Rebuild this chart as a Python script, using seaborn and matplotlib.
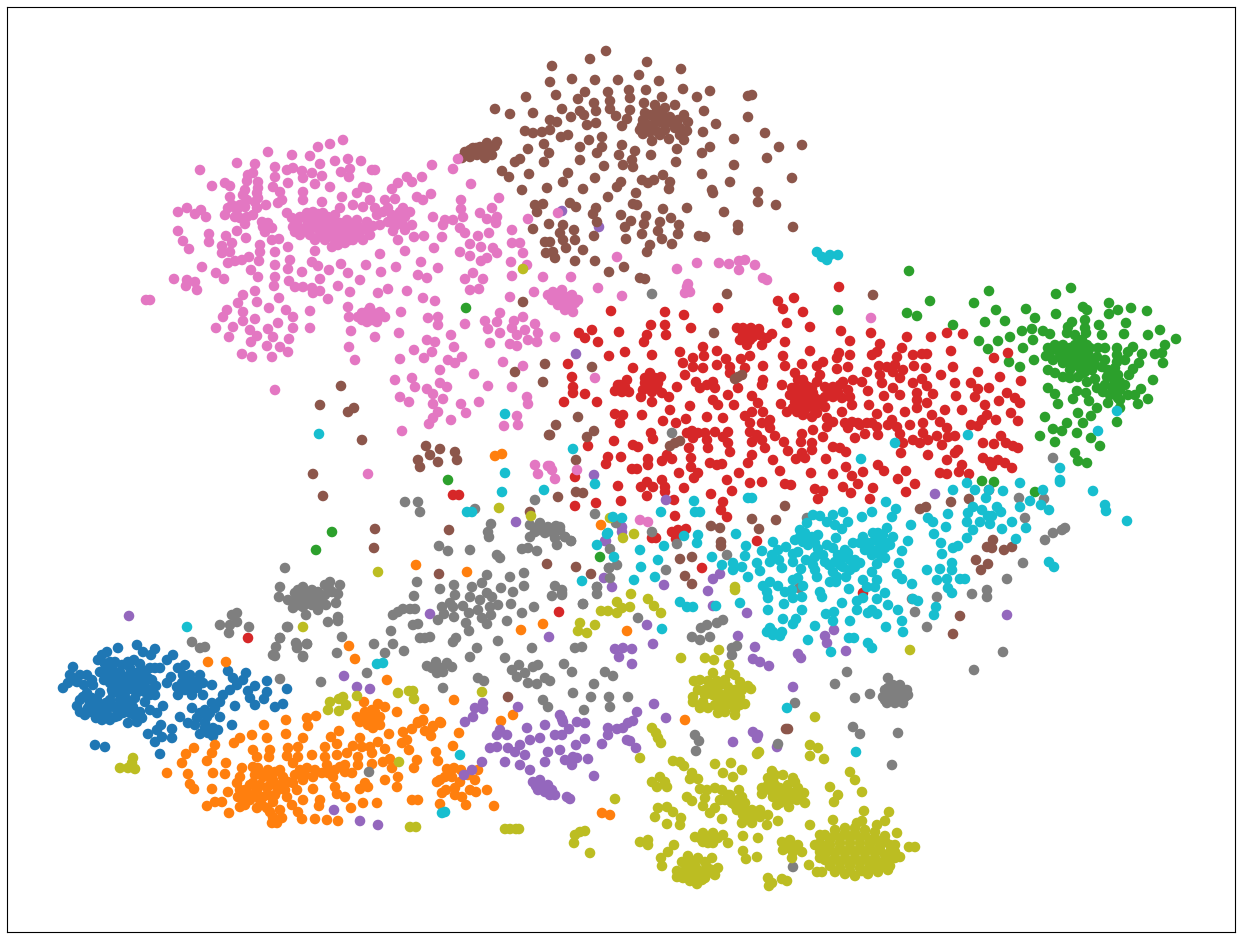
import pandas as pd
import matplotlib.pyplot as plt
import seaborn as sns

# points, one list per class
blue = [(107,652),(102,655),(98,660),(118,648),(137,645),(143,652),(155,649),(151,655),(173,655),(167,660),(160,668),(155,668),
(73,667),(70,675),(63,688),(68,683),(77,682),(87,675),(93,685),(107,670),(112,668),(108,676),(114,675),(120,672),(110,683),(116,681),(122,679),(128,676),
(118,687),(124,685),(130,683),(136,680),(126,691),(132,689),(138,687),(144,684),(148,678),(142,678),(136,673),(130,668),(128,662),(134,660),(140,664),(146,671),
(150,668),(152,690),(156,686),(155,695),(150,695),(145,692),(138,692),(118,680),(83,697),(77,706),(85,715),(93,707),(100,693),(110,700),(120,700),(103,713),
(110,720),(102,720),(123,713),(128,723),(137,722),(140,712),(133,707),(135,698),(145,702),(130,713),(117,710),(97,700),(90,703),(107,710),(115,717),
(150,710),(157,713),(163,706),(161,725),(148,734),(155,742),(162,737),(172,729),(172,738),(157,730),(167,683),(171,677),(178,668),(185,665),(183,675),(200,675),
(188,683),(177,687),(178,695),(192,695),(203,695),(197,688),(203,683),(212,685),(185,690),(180,717),(188,723),(192,708),(200,713),(212,703),(220,702),(210,713),
(220,717),(205,723),(213,728),(200,734),(213,736),(218,730),(232,725),(207,717),(197,718),(208,733),(228,671),(233,678),(237,685),(230,690),(223,695),(246,673),
(243,680),(235,706),(255,686),(248,691),(250,698),(255,705),(267,681),(267,692),(264,699),(287,689),(283,704),(275,707),(95,745),(105,747),(160,754)]
blue_dense = [(80,700),(88,708),(95,712),(100,705),(106,703),(113,706),(120,706),(126,706),(92,698),(87,693),(113,693),(125,697),(128,703),(134,715),(142,718),(118,716),
(108,716),(96,718),(90,712),(80,712),(115,662),(122,665),(110,662),(140,672),(152,680),(146,688),(120,693),(112,690),(104,680),(100,672),(105,664),(72,680),(80,675),
(84,685),(92,680),(190,675),(195,682),(182,683),(190,690),(205,710),(215,708),(205,728),(195,725)]

orange = [(208,662),(226,662),(349,646),(355,659),(387,680),(454,700),(397,712),(424,709),(364,702),(378,704),(385,707),(357,717),(365,712),(370,717),(360,722),
(380,717),(380,725),(373,728),(307,718),(316,716),(308,726),(286,720),(264,725),(286,734),(252,735),(267,738),(303,738),(240,738),(234,743),(215,745),(194,748),
(186,754),(212,753),(182,763),(207,761),(226,763),(167,773),(188,774),(213,773),(225,774),(242,768),(190,784),(194,789),(212,789),(228,792),(237,783),(240,777),
(207,806),(215,802),(222,802),(229,813),(253,750),(257,757),(270,750),(269,757),(288,748),(298,747),(287,756),(298,757),(293,763),(280,770),(270,777),(258,768),
(253,767),(263,777),(253,783),(247,793),(238,797),(240,807),(250,800),(257,808),(267,808),(273,802),(263,797),(257,790),(267,788),(273,780),(283,777),(293,783),
(297,790),(303,780),(307,768),(287,797),(303,800),(292,805),(298,812),(302,819),(273,817),(282,818),(277,823),(272,823),(315,819),(327,820),(338,821),(320,800),
(319,806),(345,797),(351,808),(363,803),(377,803),(313,789),(335,787),(337,794),(312,755),(325,757),(337,755),(325,747),(331,737),(339,731),(337,744),(360,738),
(347,753),(358,757),(353,746),(362,747),(370,747),(378,742),(372,753),(358,765),(372,764),(385,749),(389,734),(313,777),(322,773),(327,765),(333,777),(340,767),
(345,772),(352,773),(360,789),(368,787),(365,783),(385,780),(383,762),(390,759),(392,768),(398,777),(397,787),(412,800),(418,800),(403,732),(407,740),(402,743),
(409,750),(412,729),(418,723),(423,721),(425,731),(431,736),(433,727),(441,723),(436,752),(438,761),(417,760),(414,768),(453,746),(459,733),(437,782),(445,777),
(452,777),(442,793),(455,788),(440,804),(454,768),(461,770),(468,775),(475,780),(470,790),(462,797),(476,792),(466,805),(440,780),(446,790),(455,795),(460,782),
(447,769),(478,770),(487,790),(494,806),(495,456),(502,454),(416,565),(467,572),(521,630),(543,624),(501,721),(513,715),(418,722),(423,720),(440,722),(433,726),
(601,525),(627,631),(685,720),(602,813),(610,815)]
orange_dense = [(240,790),(245,800),(250,785),(245,790),(253,795),(260,785),(260,800),(268,795),(275,795),(262,775),(268,770),(275,772),(280,785),(285,790),(278,790),
(288,782),(295,775),(300,770),(270,785),(255,775),(245,805),(262,805),(280,810),(270,812),(305,775),(315,770),(335,770),(345,765),(328,773),(372,710),(375,722),(368,725),(365,718),(375,712)]

green = [(989,291),(974,303),(996,310),(985,322),(1005,321),(979,341),(998,341),(1010,337),(988,349),(1009,362),(1023,348),(1020,367),(1034,360),(1033,340),(1022,331),
(1032,329),(1043,331),(1050,334),(1026,309),(1035,318),(1056,294),(1071,288),(1056,314),(1083,307),(1087,310),(1109,303),(1109,314),(1118,310),(1131,308),(1147,311),
(1099,325),(1126,323),(1102,335),(1124,334),(1160,330),(1148,335),(1176,339),(1165,345),(1162,353),(1155,354),(1163,363),(1153,380),(1148,399),(1138,404),(1142,354),
(1139,363),(1133,369),(1129,375),(1141,389),(1048,348),(1046,356),(1057,350),(1063,345),(1070,348),(1060,357),(1067,355),(1053,360),(1063,363),(1073,358),(1082,340),
(1087,345),(1080,350),(1088,353),(1082,358),(1085,365),(1092,370),(1083,373),(1078,377),(1087,382),(1095,379),(1085,320),(1085,328),(1072,322),(1068,327),(1067,333),
(1075,335),(1086,333),(1098,348),(1105,348),(1097,357),(1105,360),(1117,348),(1117,355),(1125,360),(1128,352),(1133,347),(1117,362),(1102,367),(1108,370),(1115,368),
(1107,377),(1113,378),(1120,382),(1125,385),(1112,387),(1115,393),(1118,398),(1128,395),(1135,395),(1097,388),(1103,392),(1108,403),(1120,408),(1097,408),(1048,370),
(1055,373),(1070,370),(1063,377),(1070,378),(1048,388),(1055,394),(1058,404),(1077,391),(1086,393),(1073,399),(1089,401),(1078,413),(1091,416),(1045,417),(1067,423),
(1083,423),(1053,429),(1062,431),(1077,433),(1040,436),(1055,442),(1091,438),(1100,446),(1075,453),(1078,461),(1087,463),(1117,422),(838,310),(930,301),(907,313),
(917,316),(953,325),(982,481),(994,482),(466,308),(600,557),(1035,492),(332,532),(316,550),(909,271),(448,480)]
green_dense = [(1050,352),(1055,345),(1060,350),(1065,352),(1075,345),(1078,345),(1075,352),(1090,360),(1085,372),(1090,348),(1110,375),(1105,385),(1115,383),(1120,390),
(1112,372),(1118,375),(1095,365),(1080,368),(1067,362),(1072,350),(1080,360),(1076,365),(1120,400),(1110,395)]

red = [(839,287),(794,298),(778,301),(783,309),(803,312),(718,308),(787,323),(810,327),(841,331),(871,333),(850,341),(785,342),(665,312),(684,315),(611,311),(651,325),
(665,325),(691,328),(619,332),(592,330),(579,333),(585,338),(598,342),(647,335),(644,342),(666,335),(625,352),(609,356),(652,355),(568,364),(633,368),(680,352),
(683,363),(693,358),(693,367),(703,347),(704,356),(703,368),(717,351),(717,365),(726,359),(741,359),(750,356),(730,367),(730,373),(745,368),(685,375),(737,328),
(743,328),(751,328),(759,329),(740,340),(747,345),(753,337),(762,345),(767,338),(772,334),(750,340),(743,335),(763,366),(763,380),(762,385),(783,356),(785,366),
(802,364),(810,351),(817,366),(823,362),(572,377),(573,387),(573,393),(585,394),(564,402),(597,402),(618,385),(627,380),(615,391),(622,392),(629,392),(650,373),
(645,383),(650,383),(655,378),(661,377),(657,388),(652,392),(641,397),(652,402),(662,393),(669,397),(677,387),(696,382),(700,388),(707,385),(713,382),(715,388),
(738,388),(728,395),(690,406),(713,400),(718,405),(734,405),(752,396),(615,414),(623,415),(620,423),(642,415),(670,410),(663,421),(676,423),(686,419),(707,417),
(723,418),(758,403),(752,412),(745,416),(763,412),(750,423),(762,423),(770,420),(770,428),(781,404),(787,412),(792,388),(782,385),(795,373),(803,380),(808,387),
(798,397),(807,397),(813,393),(800,407),(808,405),(817,405),(803,415),(812,417),(793,408),(817,413),(795,402),(817,382),(825,387),(833,387),(840,385),(825,397),
(833,397),(842,398),(825,407),(820,375),(837,358),(839,353),(850,355),(837,369),(848,367),(843,382),(853,380),(862,382),(867,372),(868,391),(850,397),(848,390),
(852,405),(842,412),(869,405),(877,414),(827,418),(833,422),(827,427),(845,423),(852,422),(858,423),(867,423),(877,427),(848,428),(865,434),(878,435),(855,438),
(872,355),(877,352),(880,344),(902,348),(907,337),(931,337),(947,333),(963,334),(951,351),(913,355),(922,354),(927,354),(897,357),(994,358),(1008,353),(879,366),
(887,367),(895,365),(880,375),(893,372),(900,378),(903,370),(914,366),(926,368),(953,367),(941,375),(913,383),(922,379),(927,386),(882,383),(893,388),(900,395),
(884,396),(917,393),(917,400),(927,403),(933,394),(955,383),(956,396),(945,410),(962,410),(917,408),(905,412),(888,408),(892,420),(897,427),(900,434),(888,425),
(910,425),(923,423),(932,415),(940,422),(947,428),(923,433),(903,443),(913,440),(920,443),(928,440),(937,436),(942,445),(948,437),(955,436),(901,453),(928,455),
(958,450),(947,460),(962,465),(955,453),(969,474),(959,472),(940,473),(947,474),(971,383),(978,372),(978,389),(989,388),(1000,377),(1021,381),(1007,393),(1015,398),
(1020,403),(975,397),(985,405),(999,401),(1011,413),(1018,421),(987,415),(982,420),(971,425),(996,420),(978,426),(1001,436),(1006,443),(1013,446),(1018,448),(983,443),
(994,444),(983,458),(990,462),(998,460),(1005,463),(1012,468),(992,466),(989,490),(692,431),(698,433),(687,433),(705,433),(715,432),(728,432),(707,440),(693,438),
(723,437),(728,443),(730,452),(708,448),(689,448),(651,433),(653,439),(614,441),(633,445),(638,447),(608,457),(621,457),(606,464),(648,459),(648,465),(662,461),
(667,455),(672,459),(632,469),(637,469),(679,473),(750,432),(757,435),(752,442),(762,440),(765,448),(775,436),(784,442),(802,434),(801,442),(813,430),(823,437),
(812,443),(812,450),(788,451),(802,453),(796,459),(805,458),(826,459),(833,447),(840,448),(846,452),(752,455),(748,463),(773,460),(710,463),(717,465),(722,464),
(691,458),(691,467),(698,473),(694,478),(739,473),(727,480),(750,483),(762,482),(780,471),(811,473),(833,474),(846,467),(852,476),(863,472),(858,484),(843,487),
(851,493),(873,488),(870,499),(878,465),(884,471),(898,479),(906,471),(915,484),(906,492),(647,482),(641,487),(653,487),(618,486),(647,496),(662,480),(665,487),
(665,492),(684,488),(785,484),(791,485),(815,489),(823,491),(818,499),(732,491),(711,494),(723,502),(721,510),(727,517),(674,500),(675,516),(621,501),(596,503),
(575,506),(575,477),(588,446),(672,532),(678,530),(686,529),(676,539),(652,538),(656,538),(757,541),(702,568),(863,593),(559,612),(459,495),(453,495),(248,638)]
red_dense = [(800,390),(805,392),(795,388),(812,388),(800,400),(810,400),(815,398),(805,410),(797,412),(820,400),(790,395),(815,410),(805,385),(798,380),(645,378),(652,385),
(658,383),(648,388),(643,390),(745,331),(755,333),(760,335),(748,338),(620,385),(625,387),(830,392),(838,392),(860,425),(872,423)]

purple = [(129,616),(344,676),(357,687),(370,689),(430,614),(334,810),(360,821),(378,825),(516,522),(605,541),(604,578),(549,637),(475,708),(483,703),(483,709),(473,717),
(465,722),(518,707),(527,728),(545,725),(560,715),(563,722),(577,722),(585,723),(666,500),(622,527),(622,532),(606,541),(612,587),(664,585),(713,579),(720,574),
(708,591),(713,606),(747,613),(647,625),(653,644),(738,636),(755,647),(615,649),(623,648),(632,649),(619,657),(632,664),(753,659),(760,662),(769,666),(798,654),
(801,658),(825,636),(827,643),(834,630),(846,651),(935,494),(1007,615),(654,704),(637,712),(666,718),(793,687),(753,732),(757,738),(758,735),(733,742),(777,747),
(562,719),(569,729),(562,735),(608,728),(608,735),(617,729),(623,728),(628,723),(633,721),(627,740),(630,741),(602,744),(636,748),(585,739),(576,745),(560,750),
(565,760),(573,757),(572,765),(577,758),(588,759),(594,776),(567,797),(570,799),(533,782),(540,780),(548,785),(545,792),(552,790),(538,790),(555,795),(490,748),
(497,747),(508,748),(520,745),(515,752),(505,762),(520,765),(530,770),(482,762),(472,770),(464,775),(548,752),(545,762),(530,740),(525,755),(500,730),(507,735),
(497,735),(540,738),(555,735),(562,211),(599,227),(576,354),(594,475)]
purple_dense = [(536,786),(543,786),(550,795)]

brown = [(606,51),(590,59),(552,66),(647,62),(681,69),(639,75),(659,81),(550,82),(572,79),(595,80),(618,80),(629,90),(630,98),(646,90),(683,89),(710,91),(585,92),(608,92),
(556,95),(526,97),(578,99),(662,97),(697,97),(752,95),(748,96),(594,103),(610,101),(644,103),(675,105),(495,109),(510,114),(533,113),(562,109),(580,111),(596,111),
(610,109),(630,110),(704,111),(748,117),(571,117),(584,115),(616,116),(627,119),(716,124),(550,120),(557,122),(596,123),(587,125),(622,126),(657,110),(650,115),
(643,120),(642,126),(643,134),(652,141),(653,125),(658,132),(663,115),(670,117),(667,123),(675,128),(688,122),(687,131),(669,139),(684,140),(684,115),(660,122),
(703,132),(734,139),(765,133),(779,147),(802,145),(710,147),(702,153),(677,149),(676,162),(734,165),(767,158),(702,174),(730,182),(792,178),(712,190),(713,193),
(758,192),(758,202),(776,205),(724,212),(687,208),(738,225),(738,230),(793,227),(699,236),(705,237),(525,131),(533,133),(542,132),(550,130),(561,137),(568,135),
(589,140),(602,137),(528,149),(544,144),(549,153),(580,147),(602,147),(622,145),(635,151),(619,155),(597,153),(651,155),(580,160),(544,162),(520,159),(515,162),
(604,166),(623,165),(632,160),(633,167),(502,171),(509,177),(529,174),(568,173),(563,182),(595,178),(621,182),(617,187),(547,188),(522,190),(583,189),(642,180),
(648,183),(654,180),(663,175),(670,182),(669,189),(608,197),(636,193),(535,205),(543,204),(537,212),(570,203),(576,207),(596,208),(593,214),(633,204),(637,205),
(621,215),(663,209),(646,216),(671,218),(549,224),(533,229),(563,225),(560,233),(574,230),(597,222),(594,236),(625,227),(631,221),(644,224),(660,222),(679,225),
(642,234),(658,231),(678,234),(626,239),(662,239),(545,242),(563,240),(575,240),(550,242),(566,248),(546,253),(553,252),(555,258),(583,250),(650,245),(647,252),
(672,244),(575,261),(595,261),(609,272),(624,267),(640,278),(645,279),(727,294),(467,155),(473,148),(480,147),(487,143),(492,155),(485,153),(497,142),(477,155),
(873,295),(714,333),(592,367),(738,377),(742,375),(735,379),(578,417),(556,425),(587,437),(594,431),(550,435),(670,446),(675,443),(680,441),(576,460),(576,492),
(583,493),(558,497),(785,506),(920,509),(926,507),(951,502),(969,499),(752,519),(776,520),(711,526),(720,528),(759,529),(721,542),(721,546),(680,559),(692,557),
(685,576),(692,584),(576,567),(591,574),(993,540),(987,547),(992,548),(1004,550),(1012,547),(976,560),(988,564),(981,570),(960,616),(953,634),(341,386),(320,405),
(348,412),(354,408),(362,440),(523,302),(515,372),(545,364),(543,382),(549,435),(426,446),(440,449),(455,452),(457,460),(418,460),(420,467),(430,455),(438,462),
(323,496),(375,529),(374,548),(449,530),(439,574),(530,512),(547,564),(508,697),(786,729),(788,729),(313,474)]
brown_dense = [(645,113),(655,118),(648,125),(650,132),(645,128),(665,130),(660,135),(672,122),(678,120),(680,128),(655,105),(665,108),(640,130),(680,135),(465,152),(470,150),
(475,150),(480,152),(483,148),(489,148),(495,146),(490,150),(470,157),(476,148),(485,158),(462,158)]

pink = [(146,300),(150,300),(200,170),(237,163),(255,164),(268,152),(292,155),(310,156),(318,147),(330,144),(343,140),(320,164),(335,161),(348,159),(361,161),(275,167),
(287,170),(293,168),(302,171),(312,173),(322,176),(341,172),(350,169),(349,177),(372,170),(375,170),(248,175),(253,173),(247,181),(212,186),(225,183),(230,186),
(275,177),(288,183),(303,178),(315,184),(330,187),(273,187),(258,182),(258,188),(245,190),(230,197),(243,195),(258,198),(257,193),(280,192),(282,200),(278,203),
(303,192),(303,200),(342,197),(357,193),(363,187),(367,188),(392,189),(398,183),(407,177),(412,182),(422,177),(432,165),(453,169),(458,159),(471,184),(187,208),
(178,212),(195,214),(201,210),(206,217),(228,208),(237,210),(245,207),(240,218),(247,217),(245,224),(266,205),(257,208),(268,223),(272,228),(263,227),(178,231),
(183,241),(189,249),(209,234),(209,242),(226,236),(237,231),(246,238),(222,246),(232,243),(222,253),(230,252),(260,245),(260,252),(272,240),(279,239),(275,252),
(288,247),(259,261),(249,257),(242,260),(235,261),(228,263),(202,267),(216,273),(224,279),(251,270),(258,277),(275,265),(290,260),(288,269),(302,272),(275,277),
(274,286),(289,281),(295,287),(303,287),(312,288),(320,291),(313,293),(320,279),(329,270),(315,251),(312,262),(318,266),(341,264),(348,273),(360,280),(338,286),
(350,292),(328,299),(366,265),(380,254),(381,272),(396,267),(174,279),(187,280),(195,282),(186,286),(197,290),(287,213),(293,227),(300,217),(307,213),(313,212),
(300,228),(308,223),(317,220),(323,213),(332,218),(340,208),(325,223),(333,227),(310,235),(320,235),(330,235),(340,230),(347,220),(357,220),(367,222),(353,233),
(363,240),(370,235),(353,240),(343,237),(338,245),(373,226),(300,235),(317,228),(340,223),(353,205),(363,207),(375,208),(370,200),(377,215),(322,202),(385,200),
(395,199),(388,208),(400,212),(410,212),(388,222),(397,220),(405,217),(403,225),(412,225),(393,231),(417,197),(423,200),(431,194),(433,217),(398,240),(414,237),
(424,236),(442,237),(405,251),(434,248),(421,262),(438,268),(418,275),(427,278),(407,291),(378,293),(388,289),(423,298),(435,301),(401,312),(358,317),(367,312),
(373,313),(385,317),(367,322),(377,322),(348,307),(349,317),(351,331),(375,337),(349,347),(355,360),(399,333),(243,295),(255,291),(257,302),(238,303),(227,310),
(223,317),(243,312),(243,321),(255,319),(279,298),(269,308),(286,310),(310,311),(293,317),(278,323),(293,328),(310,328),(216,328),(233,327),(250,330),(268,329),
(229,337),(251,342),(257,336),(273,337),(289,339),(267,346),(242,354),(252,357),(272,357),(280,347),(288,352),(275,390),(461,200),(499,198),(461,209),(445,220),
(453,220),(463,217),(443,225),(460,228),(465,233),(480,213),(492,208),(487,219),(497,217),(496,223),(478,236),(489,233),(470,244),(481,247),(493,248),(497,253),
(460,252),(470,256),(487,258),(481,261),(512,230),(528,219),(512,243),(520,243),(523,253),(511,262),(527,265),(512,276),(543,277),(571,277),(534,292),(510,297),
(473,273),(465,279),(483,279),(470,290),(479,289),(553,292),(562,290),(552,300),(560,303),(568,297),(575,303),(573,312),(567,305),(500,313),(485,321),(497,322),
(488,329),(500,333),(514,321),(512,328),(523,317),(535,324),(525,330),(517,335),(538,333),(528,340),(537,342),(510,344),(517,346),(490,343),(555,337),(428,318),
(438,317),(438,325),(465,324),(451,335),(427,340),(435,342),(432,352),(454,347),(414,350),(424,358),(400,359),(448,360),(462,357),(455,363),(440,370),(474,374),
(503,362),(523,366),(488,386),(512,387),(395,380),(412,378),(415,387),(440,383),(447,387),(427,389),(433,394),(400,397),(409,402),(443,399),(433,404),(461,404),
(466,413),(479,402),(438,412),(433,418),(429,424),(451,420),(402,431),(527,397),(528,404),(517,416),(504,426),(518,425),(617,257),(677,269),(697,263),(719,263),
(729,264),(739,261),(745,260),(739,270),(755,265),(763,278),(767,280),(688,290),(687,287),(598,288),(622,296),(558,213),(871,318),(595,378),(577,470),(555,479),
(550,466),(640,520),(648,522),(535,465),(548,466),(538,474),(552,470),(368,474)]
pink_dense = [(292,218),(297,223),(305,218),(312,218),(318,214),(322,220),(328,217),(335,215),(338,225),(345,225),(351,226),(358,226),(362,230),(368,230),(312,228),(322,230),
(328,230),(335,232),(345,232),(350,240),(358,236),(305,230),(295,232),(325,240),(315,240),(335,240),(345,243),(332,247),(360,232),(240,205),(232,205),(225,215),(235,217),
(253,215),(247,200),(255,202),(265,225),(265,232),(262,222),(403,208),(392,215),(383,212),(380,225),(395,226),(405,230),(362,313),(372,320),(380,312),(370,308),(378,318),
(362,320),(556,296),(563,298),(570,300),(558,305),(565,310),(548,295),(572,295),(578,300),(688,284),(690,292),(685,293)]

gray = [(405,502),(418,502),(420,512),(475,509),(491,524),(488,532),(489,537),(535,500),(595,514),(530,525),(540,523),(548,527),(535,532),(545,533),(530,537),(556,526),
(560,530),(555,538),(557,545),(565,537),(571,541),(439,546),(448,551),(470,550),(497,555),(500,558),(522,549),(528,548),(537,551),(285,568),(417,582),(414,596),
(487,575),(482,583),(510,577),(524,573),(524,586),(501,588),(513,592),(440,589),(454,585),(455,595),(472,587),(470,597),(480,600),(487,593),(492,597),(450,603),
(442,607),(453,607),(463,606),(444,614),(454,617),(469,613),(478,610),(490,607),(498,605),(491,615),(482,618),(438,620),(466,623),(469,631),(487,624),(507,621),
(511,604),(522,613),(534,607),(555,586),(562,590),(552,596),(562,595),(597,587),(597,594),(583,604),(280,587),(279,597),(303,587),(330,582),(325,585),(340,585),
(332,592),(338,594),(295,593),(293,602),(293,608),(303,597),(312,590),(318,592),(310,598),(318,598),(303,607),(312,605),(306,615),(318,610),(326,605),(336,603),
(338,617),(338,621),(328,622),(288,627),(280,638),(296,643),(307,644),(297,648),(276,647),(275,656),(303,656),(342,637),(337,653),(374,644),(393,615),(398,612),
(403,609),(410,609),(415,609),(413,625),(418,624),(391,631),(393,644),(385,653),(404,651),(420,638),(425,638),(430,637),(453,642),(456,638),(498,641),(477,648),
(470,657),(427,666),(436,662),(437,673),(443,672),(447,663),(452,667),(367,673),(321,682),(280,679),(443,688),(478,678),(484,681),(505,658),(512,670),(519,665),
(517,677),(525,673),(533,667),(538,665),(528,683),(537,684),(545,678),(550,681),(543,700),(548,707),(564,664),(572,672),(594,684),(605,672),(573,693),(591,697),
(584,710),(532,648),(575,648),(582,647),(609,568),(616,523),(652,532),(677,544),(560,527),(565,537),(571,541),(610,549),(609,568),(617,565),(610,578),(597,587),
(562,593),(583,604),(666,570),(727,555),(638,618),(701,628),(707,625),(717,623),(723,620),(692,637),(700,640),(710,637),(732,648),(737,646),(613,676),(847,672),
(888,678),(799,588),(807,518),(974,670),(1003,652),(927,627),(937,597),(912,599),(915,612),(972,594),(987,590),(987,597),(1007,579),(1023,563),(1025,518),(1019,498),
(1044,499),(1045,540),(1053,533),(1062,530),(1065,528),(609,697),(610,707),(628,697),(695,735),(699,741),(696,751),(795,703),(778,744),(835,684),(855,698),(870,694),
(853,727),(860,734),(898,733),(892,765),(793,867),(885,690),(893,685),(900,685),(907,690),(883,697),(890,695),(898,693),(905,697),(887,703),(895,703),(903,703),
(893,698),(232,615),(237,613),(220,625),(230,625),(237,622),(249,627),(229,633),(192,642),(200,648),(205,647),(287,627),(280,638),(273,655),(297,645),(307,644),
(303,657),(369,772),(1053,458),(652,294),(672,433)]
gray_dense = [(298,597),(308,595),(322,600),(298,605),(288,600),(308,603),(315,600),(320,605),(298,590),(305,592),(325,595),(330,590),(888,688),(897,688),(903,693),(895,690),
(885,700),(900,698),(908,695),(900,700),(890,700),(538,528),(552,532),(540,530),(432,668),(442,668),(732,655)]

olive = [(120,768),(128,768),(135,769),(133,758),(132,763),(499,508),(531,516),(378,572),(303,627),(482,692),(357,696),(330,702),(328,710),(339,699),(343,697),(346,705),
(339,711),(398,693),(409,691),(413,691),(414,699),(399,762),(601,611),(608,611),(580,623),(578,631),(587,633),(595,625),(610,518),(634,534),(623,538),(735,587),
(735,590),(631,594),(648,599),(654,606),(661,613),(617,602),(617,613),(622,608),(630,607),(681,658),(705,658),(714,660),(719,650),(910,650),(694,681),(713,673),
(708,681),(717,681),(730,673),(729,665),(735,675),(740,682),(748,686),(751,689),(698,690),(693,697),(710,688),(718,692),(728,687),(740,697),(693,702),(703,702),
(708,708),(720,700),(730,700),(745,704),(718,713),(725,712),(735,710),(735,715),(723,707),(815,717),(652,728),(656,733),(658,738),(661,743),(640,758),(615,799),
(810,745),(818,748),(810,756),(824,759),(759,752),(757,754),(673,761),(680,762),(684,766),(715,764),(731,763),(742,770),(723,773),(733,777),(692,773),(690,779),
(698,779),(652,782),(660,777),(665,782),(657,787),(667,787),(700,789),(707,790),(715,788),(722,790),(687,797),(692,801),(720,800),(705,798),(703,806),(710,813),
(715,808),(728,795),(739,790),(732,803),(738,800),(745,803),(737,810),(743,815),(752,810),(760,810),(768,815),(742,823),(752,823),(767,825),(778,821),(760,817),
(722,819),(772,771),(768,778),(762,788),(762,794),(773,780),(783,775),(793,778),(780,788),(788,785),(798,788),(773,797),(783,797),(792,793),(804,793),(805,803),
(777,805),(789,807),(830,787),(838,795),(834,802),(850,772),(855,780),(862,792),(658,808),(667,807),(673,812),(655,817),(667,824),(681,818),(680,825),(695,837),
(703,833),(713,833),(723,835),(703,842),(713,843),(728,843),(743,836),(758,838),(782,842),(790,840),(798,845),(783,850),(793,852),(802,852),(792,858),(743,851),
(746,859),(757,857),(640,842),(648,840),(648,845),(674,845),(668,852),(661,858),(662,866),(688,856),(682,862),(677,871),(677,877),(683,878),(688,868),(698,858),
(712,858),(718,868),(715,875),(705,878),(697,884),(690,881),(698,870),(707,867),(697,877),(768,878),(772,883),(769,886),(782,879),(787,881),(810,825),(833,820),
(864,811),(889,812),(857,823),(862,821),(897,833),(809,865),(817,872),(822,872),(877,825),(885,821),(909,847),(915,847),(825,835),(835,830),(845,828),(855,828),
(865,830),(875,832),(885,836),(820,843),(830,840),(840,838),(850,838),(860,838),(870,840),(880,842),(890,845),(820,852),(830,850),(840,848),(850,848),(860,848),
(870,848),(880,850),(890,852),(895,845),(825,860),(835,858),(845,858),(855,858),(865,858),(875,858),(885,860),(895,858),(830,866),(840,868),(850,866),(860,868),
(870,866),(880,868),(890,866),(900,857),(845,874),(855,876),(868,874),(878,872),(888,870),(820,858),(815,845),(410,827),(416,827),(505,829),(510,829),(516,829),
(519,829),(575,835),(580,832),(585,831),(574,843),(590,853),(523,269)]
olive_dense = [(830,845),(840,843),(850,843),(860,843),(870,844),(880,846),(825,846),(835,835),(845,833),(855,833),(865,835),(875,838),(885,841),(825,855),(835,853),(845,853),
(855,853),(865,853),(875,853),(885,855),(830,862),(840,863),(850,862),(860,863),(870,862),(880,863),(890,860),(835,872),(850,871),(862,871),(873,868),(883,865),(895,852),(820,835),
(775,785),(778,792),(785,790),(790,800),(797,800),(780,803),(770,790),(775,775),(795,782),(800,797),(768,785),(785,800),(700,680),(705,690),(713,695),(720,685),(725,695),(735,690),
(742,690),(715,705),(705,695),(733,695),(727,705),(712,685),(725,680),(740,705),(700,708),(735,703),(690,860),(695,865),(705,862),(700,872),(708,873),(693,875),(683,872),(712,870),
(702,880),(688,875),(700,838),(708,838),(718,838),(708,843),(745,810),(755,815),(748,818),(735,805),(725,800),(730,795),(742,797),(740,805),(788,848),(795,846)]

cyan = [(595,484),(748,498),(752,498),(694,501),(661,512),(695,512),(700,512),(613,517),(622,518),(608,533),(698,535),(684,536),(697,543),(597,545),(664,546),(736,534),
(746,546),(640,550),(614,557),(658,560),(712,557),(641,567),(722,565),(745,556),(634,580),(655,577),(582,581),(662,629),(716,606),(740,603),(680,602),(687,607),
(693,607),(733,563),(733,570),(742,567),(748,577),(757,563),(760,571),(762,551),(773,542),(772,555),(778,550),(770,562),(779,560),(782,568),(786,547),(793,554),
(793,562),(801,569),(798,552),(806,560),(813,515),(820,516),(827,522),(833,515),(835,525),(843,512),(848,522),(842,529),(807,523),(862,517),(872,512),(892,517),
(896,509),(886,502),(887,528),(911,525),(800,537),(805,533),(812,537),(803,542),(810,542),(818,535),(836,538),(827,545),(833,548),(818,549),(815,557),(823,555),
(825,562),(813,565),(815,570),(829,565),(835,562),(842,558),(848,553),(843,567),(850,560),(855,567),(860,563),(853,543),(863,537),(868,543),(878,533),(880,542),
(865,550),(872,555),(885,548),(893,537),(877,550),(885,558),(902,551),(908,541),(877,564),(899,563),(833,572),(837,577),(846,577),(817,577),(830,582),(836,582),
(872,572),(863,580),(877,580),(867,587),(875,587),(897,574),(902,579),(912,584),(770,582),(763,586),(778,586),(767,592),(768,598),(785,592),(792,590),(793,580),
(798,578),(803,586),(793,598),(802,597),(820,592),(822,597),(849,589),(784,604),(768,610),(802,610),(842,603),(857,601),(863,598),(857,610),(877,599),(885,593),
(888,605),(868,613),(872,610),(877,614),(898,610),(902,621),(826,614),(834,612),(833,621),(850,621),(783,619),(796,619),(793,624),(815,626),(770,628),(767,632),
(773,632),(773,635),(782,632),(780,636),(808,640),(849,638),(854,638),(868,643),(872,648),(831,652),(886,627),(903,632),(934,534),(941,543),(928,518),(933,522),
(948,514),(946,527),(967,522),(968,513),(973,507),(980,522),(973,530),(967,538),(958,546),(953,548),(942,554),(940,569),(927,570),(952,563),(952,570),(937,580),
(947,579),(960,579),(965,579),(948,588),(952,593),(936,607),(934,615),(913,599),(918,601),(953,490),(975,490),(986,498),(967,483),(989,490),(1003,491),(1020,483),
(997,507),(1001,512),(988,516),(992,516),(990,524),(1002,529),(1012,522),(1026,528),(1016,539),(1020,507),(1030,501),(1041,505),(1049,510),(1043,490),(1060,482),
(1049,562),(1054,567),(982,510),(895,443),(861,459),(968,435),(817,252),(822,257),(827,260),(830,255),(838,255),(1117,411),(1098,431),(1060,468),(1093,491),
(1105,505),(1106,511),(1127,521),(1060,480),(505,414),(319,434),(505,473),(502,492),(467,512),(472,512),(544,490),(607,534),(377,664),(383,663),(573,449),(187,627),
(445,812),(442,813),(460,755),(787,708),(856,752)]
cyan_dense = [(795,540),(808,538),(815,543),(800,530),(808,545),(870,548),(875,540),(883,535),(888,543),(860,543),(873,533),(880,555),(890,545),(840,565),(848,558),(855,560),(845,550),(838,555),(850,570)]

series = [blue + blue_dense, orange + orange_dense, green + green_dense, red + red_dense, purple + purple_dense,
          brown + brown_dense, pink + pink_dense, gray + gray_dense, olive + olive_dense, cyan + cyan_dense]

rows = []
for i, pts in enumerate(series):
    for x, y in pts:
        rows.append((x, y, i))
df = pd.DataFrame(rows, columns=["x", "y", "label"])

fig = plt.figure(figsize=(12.42, 9.38), dpi=100)
ax = fig.add_axes([7 / 1242, 1 - 932 / 938, 1228 / 1242, 925 / 938])
sns.scatterplot(data=df, x="x", y="y", hue="label", palette="tab10", s=58, linewidth=0,
                legend=False, ax=ax)
ax.set_xlim(7, 1235)
ax.set_ylim(932, 7)
ax.set_xticks([])
ax.set_yticks([])
ax.set_xlabel("")
ax.set_ylabel("")
plt.savefig("out.png", dpi=100)
